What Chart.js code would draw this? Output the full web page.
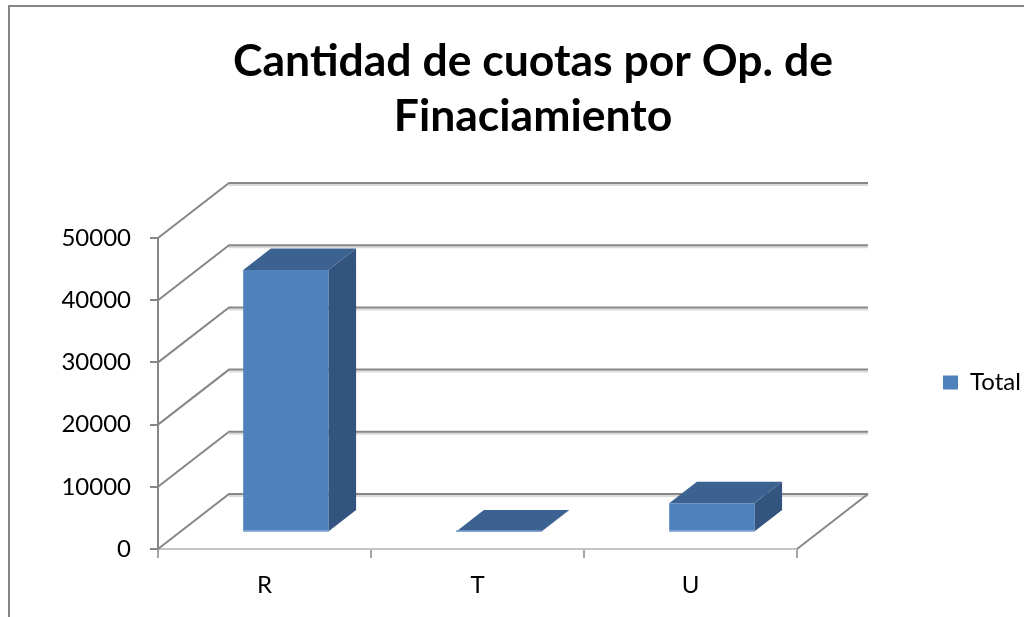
<!DOCTYPE html>
<html><head><meta charset="utf-8">
<script src="https://cdn.jsdelivr.net/npm/chart.js@4.4.1/dist/chart.umd.min.js"></script>
<style>html,body{margin:0;padding:0;background:#fff}canvas{display:block}</style>
</head><body>
<canvas id="c" width="1024" height="617"></canvas>
<script>
const categories = ['R', 'T', 'U'];
const totals = [42200, 120, 4700];
const seriesLabel = 'Total';
const titleLines = ['Cantidad de cuotas por Op. de', 'Finaciamiento'];
const yMin = 0, yMax = 50000, yStep = 10000;

const DEPTH_X = 71, DEPTH_Y = 55;
const BAR_FRONT = 0.30, BAR_BACK = 0.69;

const threeD = {
  id: 'threeD',
  beforeDraw(chart) {
    const ctx = chart.ctx;
    ctx.save();
    ctx.fillStyle = '#fff';
    ctx.fillRect(0, 0, chart.width, chart.height);
    ctx.strokeStyle = '#868686';
    ctx.lineWidth = 2;
    ctx.strokeRect(9, 6, chart.width + 20, chart.height + 20);
    ctx.restore();
  },
  beforeDatasetsDraw(chart) {
    const ctx = chart.ctx, xs = chart.scales.x, ys = chart.scales.y;
    const L = xs.left, R = xs.right;
    ctx.save();
    ctx.lineCap = 'butt';
    ys.ticks.forEach(t => {
      const y = ys.getPixelForValue(t.value);
      ctx.strokeStyle = '#dadada'; ctx.lineWidth = 2;
      ctx.beginPath(); ctx.moveTo(L + DEPTH_X, y - DEPTH_Y + 2); ctx.lineTo(R + DEPTH_X, y - DEPTH_Y + 2); ctx.stroke();
      ctx.strokeStyle = '#878787'; ctx.lineWidth = 2;
      ctx.beginPath(); ctx.moveTo(L, y); ctx.lineTo(L + DEPTH_X, y - DEPTH_Y); ctx.lineTo(R + DEPTH_X, y - DEPTH_Y); ctx.stroke();
    });
    const y0 = ys.getPixelForValue(yMin);
    ctx.strokeStyle = '#878787'; ctx.lineWidth = 2;
    ctx.beginPath(); ctx.moveTo(R, y0); ctx.lineTo(R + DEPTH_X, y0 - DEPTH_Y); ctx.stroke();

    const meta = chart.getDatasetMeta(0);
    const fx = BAR_FRONT * DEPTH_X, fy = BAR_FRONT * DEPTH_Y;
    const dx = (BAR_BACK - BAR_FRONT) * DEPTH_X, dy = (BAR_BACK - BAR_FRONT) * DEPTH_Y;
    meta.data.forEach(bar => {
      const p = bar.getProps(['x', 'y', 'base', 'width'], true);
      const xl = p.x - p.width / 2 + fx, xr = p.x + p.width / 2 + fx;
      const yt = Math.min(p.y, p.base) - fy, yb = Math.max(p.y, p.base) - fy;
      ctx.fillStyle = '#32547f';
      ctx.beginPath();
      ctx.moveTo(xr, yt); ctx.lineTo(xr + dx, yt - dy); ctx.lineTo(xr + dx, yb - dy); ctx.lineTo(xr, yb);
      ctx.closePath(); ctx.fill();
      ctx.fillStyle = '#3b6291';
      ctx.beginPath();
      ctx.moveTo(xl, yt); ctx.lineTo(xr, yt); ctx.lineTo(xr + dx, yt - dy); ctx.lineTo(xl + dx, yt - dy);
      ctx.closePath(); ctx.fill();
      ctx.fillStyle = '#4f81bd';
      ctx.fillRect(xl, yt, xr - xl, yb - yt);
      ctx.fillStyle = '#7ea3d3';
      ctx.fillRect(xl, yb - 1.5, xr - xl, 1.5);
    });
    ctx.restore();
    return false;
  }
};

const tickFont = { family: 'Lato', size: 24 };

function build() {
  new Chart(document.getElementById('c'), {
    type: 'bar',
    data: {
      labels: categories,
      datasets: [{
        label: seriesLabel,
        data: totals,
        backgroundColor: '#4f81bd',
        borderWidth: 0,
        barPercentage: 0.40,
        categoryPercentage: 1.0
      }]
    },
    options: {
      responsive: false,
      animation: false,
      devicePixelRatio: 1,
      layout: { padding: { left: 42, right: 0, top: 0, bottom: 0 } },
      plugins: {
        title: {
          display: true,
          text: titleLines,
          color: '#000',
          font: { family: 'Lato', size: 44.5, weight: 'bold', lineHeight: 1.236 },
          padding: { top: 34, bottom: 94 }
        },
        legend: {
          position: 'right',
          align: 'start',
          maxWidth: 91,
          title: { display: true, text: ' ', font: { family: 'Lato', size: 10, lineHeight: 1 }, padding: { top: 350.5, bottom: 0 } },
          labels: { boxWidth: 15, boxHeight: 14, font: tickFont, color: '#000', padding: 10 }
        },
        tooltip: { enabled: false }
      },
      scales: {
        x: {
          type: 'category',
          grid: { drawOnChartArea: false, drawTicks: true, tickLength: 9, color: '#a6a6a6', lineWidth: 2, offset: true },
          border: { display: true, color: '#c4c4c4', width: 2 },
          ticks: { font: tickFont, color: '#000', padding: 13 },
          afterFit: s => { s.height = 68; }
        },
        y: {
          type: 'linear',
          position: 'left',
          min: yMin, max: yMax,
          grid: { drawOnChartArea: false, drawTicks: true, tickLength: 8, color: '#878787', lineWidth: 2 },
          border: { display: true, color: '#878787', width: 2 },
          ticks: { stepSize: yStep, font: tickFont, color: '#000', padding: 19, callback: v => String(v) },
          afterFit: s => { s.width = 116; }
        },
        spacer: {
          type: 'linear',
          position: 'right',
          display: true,
          grid: { display: false },
          border: { display: false },
          ticks: { display: false },
          afterFit: s => { s.width = 136; }
        }
      }
    },
    plugins: [threeD]
  });
}
Promise.all([document.fonts.load('bold 44px Lato'), document.fonts.load('24px Lato')]).then(build, build);
</script>
</body></html>
